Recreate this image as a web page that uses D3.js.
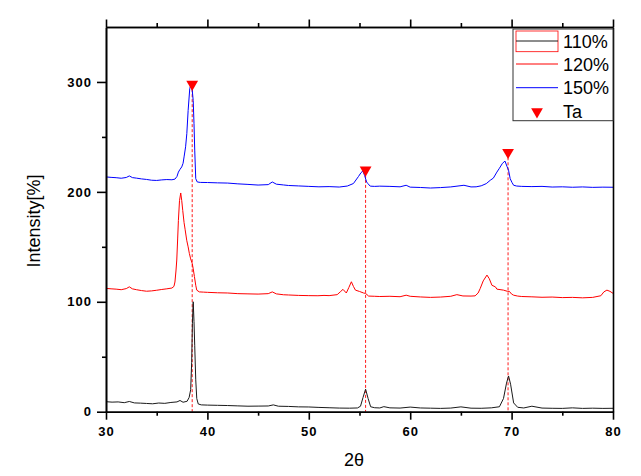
<!DOCTYPE html>
<html>
<head>
<meta charset="utf-8">
<script src="https://cdn.jsdelivr.net/npm/d3@7"></script>
<style>
  html, body { margin: 0; padding: 0; background: #fff; }
  svg { display: block; }
  .tick text { font-family: "Liberation Sans", Arial, sans-serif; font-weight: bold; font-size: 13px; letter-spacing: 1px; fill: #000; }
</style>
</head>
<body>
<svg id="chart" width="641" height="476"></svg>
<script>
// ---------------- data ----------------
const xMajorTicks = [30, 40, 50, 60, 70, 80];
const xMinorTicks = [35, 45, 55, 65, 75];
const yMajorTicks = [0, 100, 200, 300];
const yMinorTicks = [50, 150, 250];

const seriesNames = ["110%", "120%", "150%"];
const markerName = "Ta";

const curve110 = [[30,9.1],[30.6,8.7],[31.2,8.9],[31.8,8.2],[32.3,9.3],[32.8,8.0],[33.4,7.8],[34,7.5],[34.6,7.2],[35.2,7.9],[35.8,7.6],[36.4,8.4],[37,8.9],[37.3,10.2],[37.6,8.6],[38,9.5],[38.2,13],[38.35,20],[38.45,45],[38.52,80],[38.6,100],[38.68,82],[38.75,60],[38.85,29],[38.95,12],[39.1,7],[39.4,6.2],[40,6.0],[41,5.8],[42,5.6],[43,5.3],[44,5.0],[45,5.1],[46,5.2],[46.5,6.2],[47,5.0],[48,4.8],[49,4.4],[50,4.3],[51,3.9],[52,3.6],[53,3.3],[54,3.2],[54.8,3.4],[55.1,5],[55.35,13],[55.6,20.5],[55.85,12],[56.1,4.5],[56.5,3.6],[57,3.4],[57.4,4.6],[58,3.5],[59,3.3],[60,4.2],[61,3.4],[62,3.2],[63,3.0],[64,3.3],[65,4.4],[66,3.2],[67,3.1],[68,3.5],[68.8,4.5],[69.2,12],[69.5,26],[69.7,32.5],[69.9,25],[70.2,8],[70.6,4],[71.2,3.4],[72,5.0],[73,3.3],[74,3.1],[75,3.0],[76,3.5],[77,3.0],[78,3.2],[79,3.0],[80,3.1]];

const curve120 = [[30,112.2],[30.5,111.8],[31,111.5],[31.5,111.0],[32,112.0],[32.3,113.6],[32.6,111.8],[33,111.0],[33.5,110.2],[34,109.6],[34.5,109.9],[35,110.5],[35.5,111.2],[36,111.8],[36.5,112.5],[36.7,114],[36.8,118],[36.9,128],[36.98,138],[37.07,158],[37.14,174],[37.25,192],[37.37,199],[37.47,192],[37.57,183],[37.7,172],[37.8,166],[37.96,156],[38.1,150],[38.22,144],[38.35,139],[38.5,135],[38.6,130],[38.72,123],[38.85,115],[38.95,110.6],[39.2,109],[39.6,108.8],[40,108.6],[41,108.2],[42,108],[43,107.4],[44,107.2],[45,107],[46,107.4],[46.4,109],[46.8,107.2],[47.5,106.4],[48,106.2],[49,105.8],[50,105.6],[50.9,105.5],[51.5,105.8],[52,105.6],[52.8,106.5],[53.1,109],[53.37,111.3],[53.7,108],[53.95,113],[54.2,118.2],[54.4,114],[54.6,110.6],[55,109.4],[55.4,108],[55.6,107.6],[55.9,105.2],[56.5,105],[57,104.8],[58,105],[59,104.6],[59.6,106],[60,105],[61,104.4],[62,104],[63,104.3],[64,105],[64.6,106.5],[65.2,105.3],[66,105.2],[66.4,105.4],[66.7,108],[66.9,112],[67.2,119],[67.57,124.3],[67.8,121],[68.06,115],[68.4,113.6],[68.55,111.5],[69.2,110.6],[69.6,109.5],[69.78,109.5],[70.0,107],[70.2,106],[70.6,105.2],[71,104.8],[72,104.5],[73,104.1],[74,104.3],[75,103.8],[76,104],[77,103.6],[78,104],[78.8,105.5],[79.1,109],[79.4,110.6],[79.7,109.5],[80,107.7]];

const curve150 = [[30,213.6],[30.5,213.2],[31,212.9],[31.5,212.4],[32,213.1],[32.3,214.5],[32.6,213],[33,212.5],[33.5,211.8],[34,211.3],[34.5,210.6],[35,210.4],[35.5,210.9],[36,211.2],[36.5,211],[36.8,211.6],[37.0,214],[37.14,218],[37.3,220.5],[37.47,222.7],[37.6,226],[37.7,231.8],[37.85,241],[37.97,253],[38.1,274],[38.26,294],[38.4,298.5],[38.5,293],[38.6,283],[38.68,262],[38.75,238],[38.85,212],[39,209],[39.3,208.6],[40,208.5],[41,208.2],[42,208],[43,207.3],[44,206.8],[45,206.2],[46,206.6],[46.4,209],[46.8,207],[47.5,206.3],[48,205.8],[49,205.4],[50,205],[51,204.6],[52,204.8],[53,204.4],[53.8,205.3],[54.4,207.6],[54.9,214],[55.15,217.5],[55.33,219],[55.5,215],[55.7,209],[55.82,207.6],[56.06,205.2],[56.5,205],[57,205.2],[58,205],[59,204.6],[59.6,206],[60,204.3],[61,204],[62,203.5],[63,203.9],[64,204.5],[65.3,206],[66,204.5],[66.5,204.6],[67,205.5],[67.5,207.5],[67.9,210.6],[68.2,212.5],[68.55,218],[68.8,221.5],[69.1,226],[69.35,228],[69.55,223],[69.7,219.7],[69.86,212],[70.04,208.5],[70.2,206],[70.5,205.3],[71,205],[72,204.8],[73,205],[74,204.4],[75,204.6],[76,204.2],[77,204.5],[78,204.1],[79,204.3],[80,204.2]];

const taPeaks = [[38.5, 298], [55.6, 220], [69.65, 236]];

// ---------------- layout ----------------
const svg = d3.select("#chart");
const L = 106, R = 613, T = 27, B = 411.7;
const x = d3.scaleLinear().domain([30, 80]).range([L, R]);
const y = d3.scaleLinear().domain([0, 350]).range([B, T]);

const colors = ["#1a1a1a", "#ff0000", "#0000ff"];
const curves = [curve110, curve120, curve150];

// dashed reference lines
svg.append("g").selectAll("line").data(taPeaks).join("line")
  .attr("x1", d => x(d[0])).attr("x2", d => x(d[0]))
  .attr("y1", d => y(d[1])).attr("y2", y(0))
  .attr("stroke", "#ff0000").attr("stroke-width", 0.9)
  .attr("stroke-dasharray", "3,2");

// curves
const line = d3.line().x(d => x(d[0])).y(d => y(d[1]));
svg.append("g").selectAll("path").data(curves).join("path")
  .attr("d", line).attr("fill", "none")
  .attr("stroke", (d, i) => colors[i]).attr("stroke-width", 1);

// markers
const tri = d3.symbol().type(d3.symbolTriangle).size(60);
svg.append("g").selectAll("path").data(taPeaks).join("path")
  .attr("d", tri)
  .attr("transform", d => `translate(${x(d[0])},${y(d[1])}) rotate(180)`)
  .attr("fill", "#ff0000");

// axes
function styleAxis(g) {
  g.select(".domain").attr("stroke", "#000").attr("stroke-width", 1.6);
  g.selectAll(".tick line").attr("stroke", "#000").attr("stroke-width", 1.6);
}
svg.append("g").attr("transform", `translate(0,${B})`)
  .call(d3.axisBottom(x).tickValues(xMajorTicks).tickSize(8).tickSizeOuter(0).tickPadding(7).tickFormat(d3.format("d")))
  .call(styleAxis);
svg.append("g").attr("transform", `translate(0,${B})`)
  .call(d3.axisBottom(x).tickValues(xMinorTicks).tickSize(4).tickSizeOuter(0).tickFormat(""))
  .call(styleAxis);
svg.append("g").attr("transform", `translate(0,${T})`)
  .call(d3.axisTop(x).tickValues(xMajorTicks).tickSize(7.5).tickSizeOuter(0).tickFormat(""))
  .call(styleAxis);
svg.append("g").attr("transform", `translate(0,${T})`)
  .call(d3.axisTop(x).tickValues(xMinorTicks).tickSize(4).tickSizeOuter(0).tickFormat(""))
  .call(styleAxis);
svg.append("g").attr("transform", `translate(${L},0)`)
  .call(d3.axisLeft(y).tickValues(yMajorTicks).tickSize(9).tickSizeOuter(0).tickPadding(5).tickFormat(d3.format("d")))
  .call(styleAxis);
svg.append("g").attr("transform", `translate(${L},0)`)
  .call(d3.axisLeft(y).tickValues(yMinorTicks).tickSize(4).tickSizeOuter(0).tickFormat(""))
  .call(styleAxis);
svg.append("g").attr("transform", `translate(${R},0)`)
  .call(d3.axisRight(y).tickValues([]).tickSizeOuter(0))
  .call(styleAxis);

// axis titles
svg.append("text").attr("x", 354).attr("y", 466)
  .attr("text-anchor", "middle")
  .attr("font-family", "Liberation Sans, Arial, sans-serif").attr("font-size", 18)
  .text("2θ");
svg.append("text").attr("transform", "translate(40,221) rotate(-90)")
  .attr("text-anchor", "middle")
  .attr("font-family", "Liberation Sans, Arial, sans-serif").attr("font-size", 18)
  .text("Intensity[%]");

// legend
const lg = svg.append("g");
lg.append("rect").attr("x", 513).attr("y", 29).attr("width", 100).attr("height", 91.7)
  .attr("fill", "#fff").attr("stroke", "#333").attr("stroke-width", 1);
const rowY = [41, 64, 87.7, 111.7];
const labels = seriesNames.concat([markerName]);
// 110% swatch: red outline box with a dark line through it
lg.append("rect").attr("x", 516).attr("y", 31).attr("width", 42).attr("height", 20.7)
  .attr("fill", "none").attr("stroke", "#ff0000").attr("stroke-width", 0.8);
lg.selectAll("line.sw").data(seriesNames).join("line").attr("class", "sw")
  .attr("x1", 516).attr("x2", 558)
  .attr("y1", (d, i) => rowY[i]).attr("y2", (d, i) => rowY[i])
  .attr("stroke", (d, i) => colors[i]).attr("stroke-width", 1);
lg.append("path").attr("d", tri)
  .attr("transform", `translate(537,${rowY[3]}) rotate(180)`).attr("fill", "#ff0000");
lg.selectAll("text").data(labels).join("text")
  .attr("x", 563).attr("y", (d, i) => rowY[i] + 6.5)
  .attr("font-family", "Liberation Sans, Arial, sans-serif").attr("font-size", 18)
  .text(d => d);
</script>
</body>
</html>
